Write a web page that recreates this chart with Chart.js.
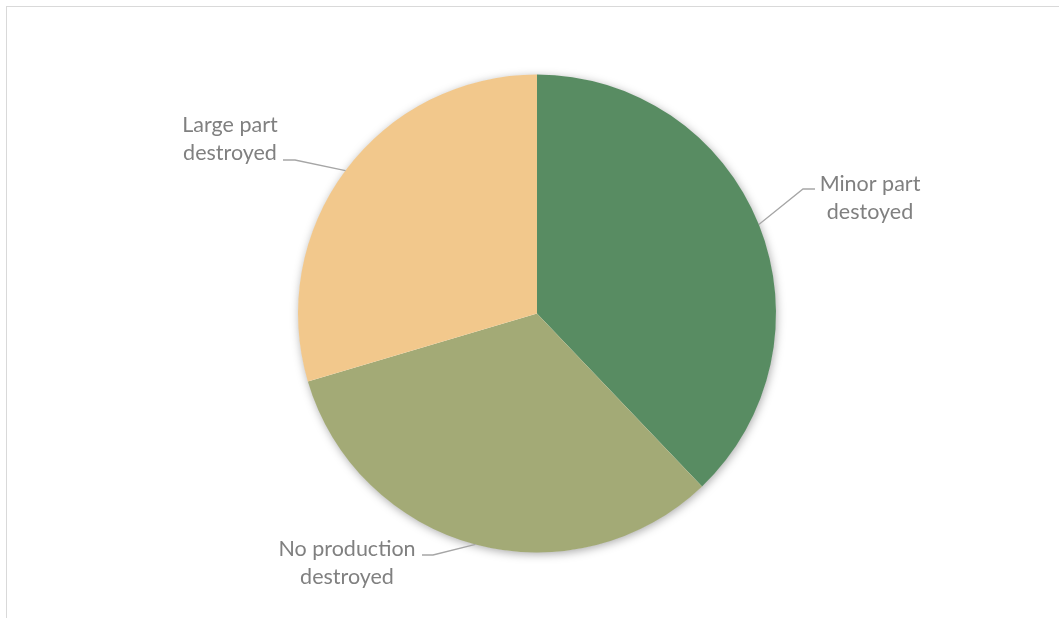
<!DOCTYPE html>
<html>
<head>
<meta charset="utf-8">
<script src="https://cdn.jsdelivr.net/npm/chart.js@4/dist/chart.umd.min.js"></script>
<style>
  html, body { margin:0; padding:0; background:#fff; overflow:hidden; }
  .frame { position:absolute; left:6px; top:6px; width:1100px; height:700px; border:1.5px solid #d9d9d9; }
  #wrap { position:absolute; left:0; top:0; width:1059px; height:618px; }
</style>
</head>
<body>
<div class="frame"></div>
<div id="wrap"><canvas id="pie" width="1059" height="618"></canvas></div>
<script>
// Data
const categories = ['Minor part destoyed', 'No production destroyed', 'Large part destroyed'];
const labelLines = [['Minor part', 'destoyed'], ['No production', 'destroyed'], ['Large part', 'destroyed']];
const values = [64, 55, 50];
const colors = ['#588c62', '#a3aa76', '#f2c88c'];

// label placement: text centre, elbow and end of the leader line
const labelPos = [
  {x: 870, y: 198, elbow: [803, 189], end: [815, 189]},
  {x: 347, y: 563, elbow: [433, 555], end: [422, 555]},
  {x: 230, y: 139, elbow: [295, 160], end: [283, 160]}
];

// soft shadow under the whole pie (not per slice)
const shadowPlugin = {
  id: 'shadow',
  beforeDatasetsDraw(chart) {
    const arc = chart.getDatasetMeta(0).data[0];
    if (!arc) return;
    const c = chart.ctx;
    c.save();
    c.shadowColor = 'rgba(0,0,0,0.35)';
    c.shadowBlur = 10;
    c.shadowOffsetX = 1;
    c.shadowOffsetY = 2;
    c.fillStyle = '#fff';
    c.beginPath();
    c.arc(arc.x, arc.y, arc.outerRadius - 0.5, 0, Math.PI * 2);
    c.fill();
    c.restore();
  }
};

const labelPlugin = {
  id: 'leaderLabels',
  afterDraw(chart) {
    const c = chart.ctx;
    const meta = chart.getDatasetMeta(0);
    meta.data.forEach((arc, i) => {
      const mid = (arc.startAngle + arc.endAngle) / 2;
      const px = arc.x + Math.cos(mid) * arc.outerRadius;
      const py = arc.y + Math.sin(mid) * arc.outerRadius;
      const p = labelPos[i];
      c.save();
      c.strokeStyle = '#a6a6a6';
      c.lineWidth = 1.3;
      c.beginPath();
      c.moveTo(px, py);
      c.lineTo(p.elbow[0], p.elbow[1]);
      c.lineTo(p.end[0], p.end[1]);
      c.stroke();
      c.fillStyle = '#808080';
      c.font = '21.5px Lato, "Open Sans", sans-serif';
      c.textAlign = 'center';
      c.textBaseline = 'middle';
      const lines = labelLines[i];
      lines.forEach((t, k) => c.fillText(t, p.x, p.y + (k - (lines.length - 1) / 2) * 28));
      c.restore();
    });
  }
};

new Chart(document.getElementById('pie'), {
  type: 'pie',
  data: {
    labels: categories,
    datasets: [{ data: values, backgroundColor: colors, borderWidth: 0 }]
  },
  options: {
    responsive: false,
    animation: false,
    layout: { padding: { top: 74.5, bottom: 65.5, left: 298, right: 283 } },
    plugins: { legend: { display: false }, tooltip: { enabled: false } }
  },
  plugins: [shadowPlugin, labelPlugin]
});
</script>
</body>
</html>
